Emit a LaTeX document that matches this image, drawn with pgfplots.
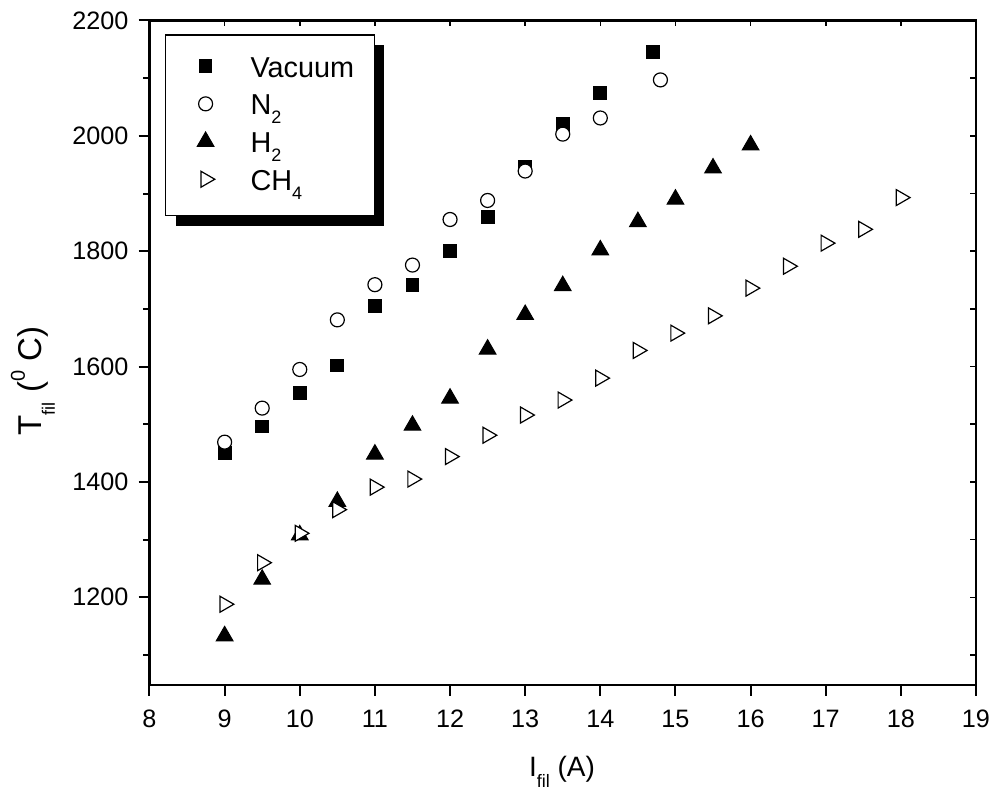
\documentclass[border=0pt]{standalone}
\usepackage{fontspec}
\setmainfont{Liberation Sans}
\usepackage{pgfplots}
\pgfplotsset{compat=1.18}
\usetikzlibrary{shadows}

\begin{document}
\begin{tikzpicture}
\path[use as bounding box] (-74.75pt,-54pt) rectangle (421.75pt,342.5pt);
\begin{axis}[
  at={(0pt,0pt)}, anchor=south west, scale only axis,
  width=413.25pt, height=332.25pt,
  xmin=8, xmax=19, ymin=1048, ymax=2200,
  xtick={8,9,...,19}, ytick={1200,1400,...,2200},
  minor ytick={1100,1300,...,2100},
  xtick pos=left, ytick pos=left,
  tick align=outside,
  major tick length=5.5pt, minor tick length=3pt,
  tick style={line width=1pt, black},
  axis line style={line width=1.1pt},
  ticklabel style={font=\fontsize{12.6}{14}\selectfont},
  /pgf/number format/assume math mode=true,
  /pgf/number format/1000 sep={},
  xticklabel style={yshift=-3.5pt},
  yticklabel style={xshift=-1.5pt},
  legend cell align=left,
  legend style={
    at={(0.01875,0.979)}, anchor=north west,
    draw=black, line width=0.6pt, fill=white,
    font=\fontsize{14.4}{16}\selectfont,
    inner xsep=10pt, inner ysep=9.3pt,
    row sep=3.6pt, column sep=12.5pt,
    nodes={inner sep=0pt, text height=11pt, text depth=3.5pt},
    drop shadow={shadow xshift=5pt, shadow yshift=-5pt, fill=black, opacity=1},
  },
  legend image code/.code={%
    \pgfpathrectangle{\pgfpoint{-10pt}{-2pt}}{\pgfpoint{20pt}{10pt}}\pgfusepath{use as bounding box}%
    \draw[#1,only marks,preaction={}] plot coordinates {(0pt,1.75pt)};},
]
\addplot[only marks, mark=square*, mark size=3.2pt, mark options={fill=black, draw=black, line width=0.5pt}] coordinates {
(9,1450) (9.5,1496) (10,1554) (10.5,1602) (11,1705) (11.5,1741) (12,1800) (12.5,1860) (13,1947) (13.5,2021) (14,2074) (14.7,2146)
};
\addlegendentry{Vacuum}
\addplot[only marks, mark=*, mark size=3.5pt, mark options={fill=white, draw=black, line width=0.6pt}] coordinates {
(9,1469) (9.5,1528) (10,1595) (10.5,1681) (11,1742) (11.5,1776) (12,1855) (12.5,1888) (13,1939) (13.5,2003) (14,2031) (14.8,2097)
};
\addlegendentry{N\raisebox{-4.5pt}{\fontsize{9}{9}\selectfont 2}}
\addplot[only marks, mark=triangle*, mark size=4.8pt, mark options={fill=black, draw=black, line width=0.5pt}] coordinates {
(9,1133) (9.5,1231) (10,1308) (10.5,1366) (11,1448) (11.5,1498) (12,1545) (12.5,1630) (13,1690) (13.5,1740) (14,1802) (14.5,1851) (15,1890) (15.5,1944) (16,1984)
};
\addlegendentry{H\raisebox{-4.5pt}{\fontsize{9}{9}\selectfont 2}}
\addplot[only marks, mark=triangle*, mark size=4.6pt, mark options={rotate=-90, fill=white, draw=black, line width=0.6pt}] coordinates {
(9,1188) (9.5,1260) (10,1311) (10.5,1352) (11,1391) (11.5,1405) (12,1444) (12.5,1481) (13,1516) (13.5,1542) (14,1580) (14.5,1628) (15,1658) (15.5,1688) (16,1736) (16.5,1774) (17,1814) (17.5,1838) (18,1893)
};
\addlegendentry{CH\raisebox{-4.5pt}{\fontsize{9}{9}\selectfont 4}}
\end{axis}
\begin{axis}[
  at={(0pt,0pt)}, anchor=south west, scale only axis,
  width=413.25pt, height=332.25pt,
  xmin=8, xmax=19, ymin=1048, ymax=2200,
  xtick={8,9,...,19}, ytick={1100,1200,...,2200},
  xtick pos=right, ytick pos=right,
  tick align=inside,
  xticklabels={}, yticklabels={},
  axis line style={draw=none},
  tick style={line width=0.8pt, black},
  major tick length=3pt,
]
\end{axis}
\node[anchor=base, font=\fontsize{14}{16}\selectfont] at (206.25pt,-46pt) {I\raisebox{-5.5pt}{\fontsize{9}{9}\selectfont fil} (A)};
\node[anchor=base, rotate=90, font=\fontsize{16.5}{18}\selectfont] at (-53.75pt,152pt) {T\raisebox{-6.5pt}{\fontsize{9}{9}\selectfont fil} (\raisebox{8.5pt}{\fontsize{10}{10}\selectfont 0} C)};
\end{tikzpicture}
\end{document}
